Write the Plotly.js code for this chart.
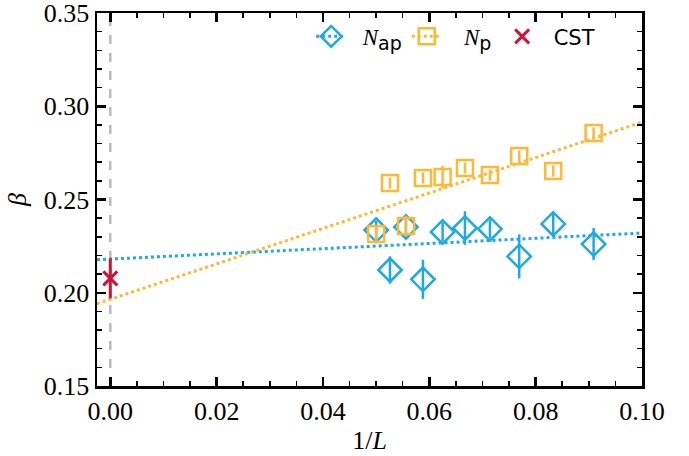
<!DOCTYPE html>
<html><head><meta charset="utf-8">
<script src="https://cdn.plot.ly/plotly-3.0.1.min.js"></script>
<style>body{margin:0;background:#fff}#c{width:689px;height:456px}</style>
</head><body><div id="c"></div>
<script>
// data
const invL = [0.05, 0.0526, 0.0556, 0.0588, 0.0625, 0.0667, 0.0714, 0.0769, 0.0833, 0.0909];
const betaAp = [0.2336, 0.2122, 0.2353, 0.2072, 0.2326, 0.2347, 0.2342, 0.2195, 0.2369, 0.2261];
const errAp  = [0.005, 0.0073, 0.005, 0.0105, 0.005, 0.009, 0.005, 0.0118, 0.006, 0.0086];
const betaP  = [0.2315, 0.2588, 0.2358, 0.2615, 0.2620, 0.2669, 0.2631, 0.2733, 0.2653, 0.2857];
const errP   = [0.004, 0.003, 0.0055, 0.003, 0.006, 0.003, 0.003, 0.003, 0.003, 0.003];
const cstX = [0.0], cstY = [0.2077], cstErr = [0.0107];
const fitX = [-0.0025, 0.1];
const fitAp = [0.2177, 0.2320];
const fitP  = [0.1941, 0.2915];

const BLUE = '#1fa9e1', ORANGE = '#fdb834', RED = '#c8163a';
const serif = 'Liberation Serif';
const NB = '\u00a0';

const traces = [
  {x: fitX, y: fitAp, mode: 'lines', line: {color: BLUE, dash: 'dot', width: 3}, showlegend: false, hoverinfo: 'skip'},
  {x: fitX, y: fitP, mode: 'lines', line: {color: ORANGE, dash: 'dot', width: 3}, showlegend: false, hoverinfo: 'skip'},
  {x: invL, y: betaAp, mode: 'markers', showlegend: false,
   marker: {symbol: 'diamond-open', size: 18, color: BLUE, line: {width: 2.5, color: BLUE}},
   error_y: {type: 'data', array: errAp, visible: true, color: BLUE, thickness: 2.5, width: 0}},
  {x: invL, y: betaP, mode: 'markers', showlegend: false,
   marker: {symbol: 'square-open', size: 16, color: ORANGE, line: {width: 2.5, color: ORANGE}},
   error_y: {type: 'data', array: errP, visible: true, color: ORANGE, thickness: 2.5, width: 0}},
  {x: cstX, y: cstY, mode: 'markers', showlegend: false,
   marker: {symbol: 'x-thin-open', size: 14, color: RED, line: {width: 3, color: RED}},
   error_y: {type: 'data', array: cstErr, visible: true, color: RED, thickness: 3, width: 0}},
  // legend entries
  {x: [null], y: [null], mode: 'lines+markers',
   name: NB + NB + '<i>N</i><sub><span style="font-family:DejaVu Sans;font-size:19px">ap</span></sub>',
   line: {color: BLUE, dash: 'dot', width: 3},
   marker: {symbol: 'diamond-open', size: 18, color: BLUE, line: {width: 2.5, color: BLUE}}},
  {x: [null], y: [null], mode: 'lines+markers',
   name: NB + NB + NB + '<i>N</i><sub><span style="font-family:DejaVu Sans;font-size:19px">p</span></sub>' + NB,
   line: {color: ORANGE, dash: 'dot', width: 3},
   marker: {symbol: 'square-open', size: 16, color: ORANGE, line: {width: 2.5, color: ORANGE}}},
  {x: [null], y: [null], mode: 'markers', name: NB + NB + '<span style="font-family:DejaVu Sans;font-size:21px">CST</span>',
   marker: {symbol: 'x-thin-open', size: 14, color: RED, line: {width: 3, color: RED}}}
];

const axisCommon = {
  showgrid: false, zeroline: false, showline: true, linecolor: '#000', linewidth: 2.5,
  mirror: 'ticks', ticks: 'inside', ticklen: 9, tickwidth: 2.5, tickcolor: '#000',
  tickfont: {family: serif, size: 26, color: '#000'}, ticklabeloverflow: 'allow'
};

const layout = {
  width: 689, height: 456,
  margin: {l: 97, r: 47, t: 13, b: 70},
  paper_bgcolor: '#fff', plot_bgcolor: '#fff',
  font: {family: serif, color: '#000'},
  showlegend: true,
  legend: {orientation: 'h', x: 0.393, xanchor: 'left', y: 0.995, yanchor: 'top',
           bgcolor: 'rgba(0,0,0,0)', font: {family: serif, size: 23, color: '#000'},
           tracegroupgap: 0},
  xaxis: Object.assign({}, axisCommon, {
    range: [-0.0025, 0.1], tickvals: [0, 0.02, 0.04, 0.06, 0.08, 0.1],
    ticktext: ['0.00', '0.02', '0.04', '0.06', '0.08', '0.10'],
    minor: {dtick: 0.005, tick0: 0, ticks: 'inside', ticklen: 5, tickwidth: 1.5, tickcolor: '#000'},
    title: {text: '1/<i>L</i>', font: {family: serif, size: 26, color: '#000'}, standoff: 6}
  }),
  yaxis: Object.assign({}, axisCommon, {
    range: [0.15, 0.35], tickvals: [0.15, 0.2, 0.25, 0.3, 0.35],
    ticktext: ['0.15', '0.20', '0.25', '0.30', '0.35'],
    minor: {dtick: 0.01, tick0: 0.15, ticks: 'inside', ticklen: 5, tickwidth: 1.5, tickcolor: '#000'},
    title: {text: '<i>β</i>', font: {family: serif, size: 26, color: '#000'}, standoff: 10}
  }),
  shapes: [{type: 'line', xref: 'x', yref: 'paper', x0: 0, x1: 0, y0: 0, y1: 1,
            line: {color: '#bbbbbb', width: 2.5, dash: 'dash'}, layer: 'below'}]
};

Plotly.newPlot('c', traces, layout, {staticPlot: true, displayModeBar: false});
</script></body></html>
